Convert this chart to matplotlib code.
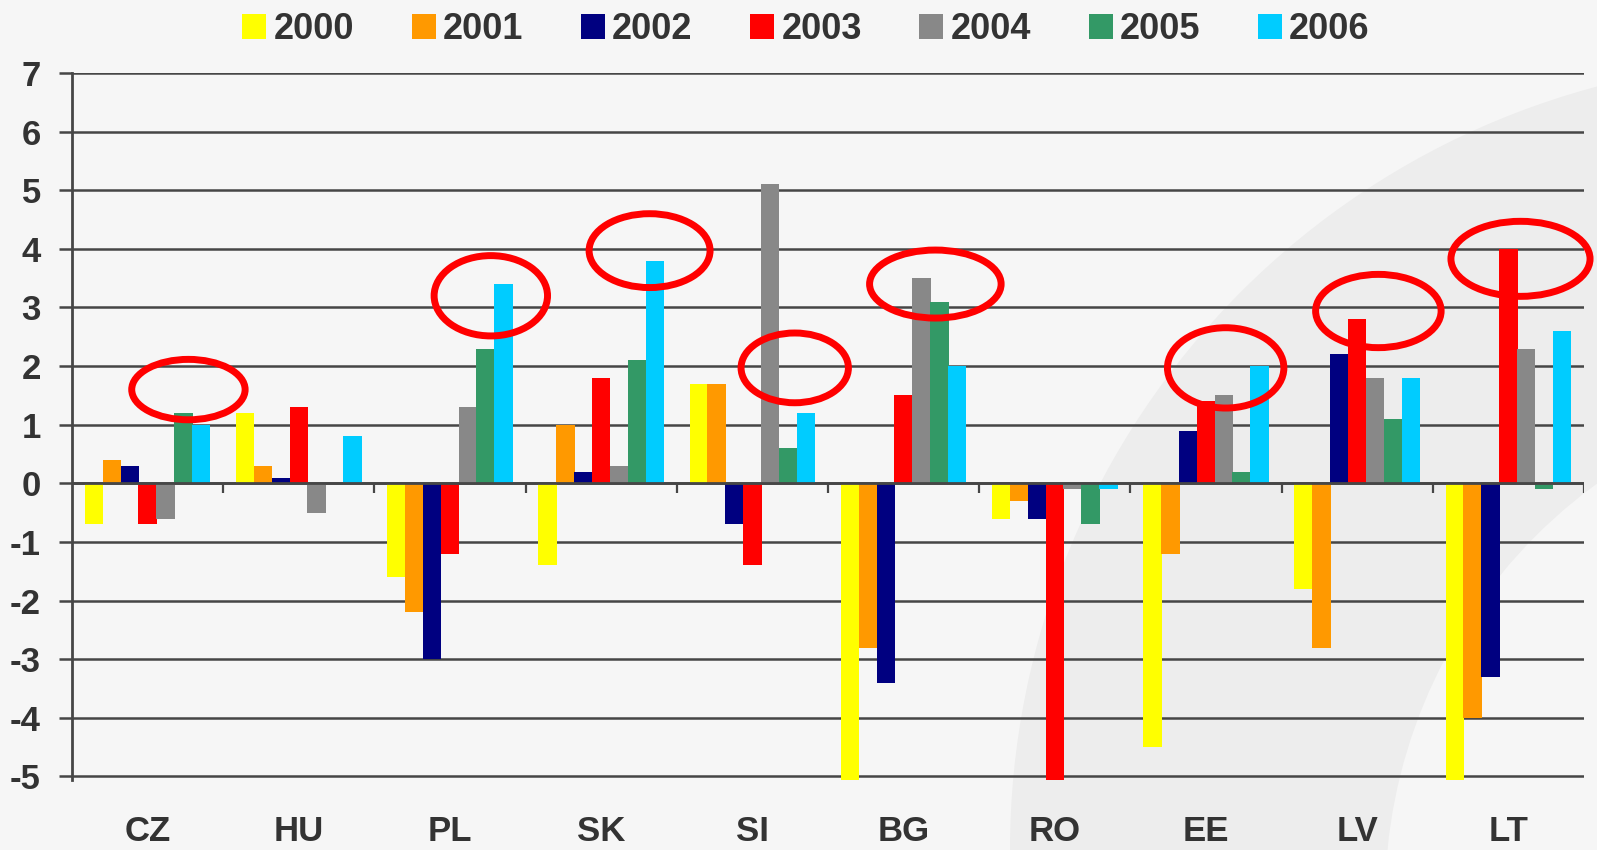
import matplotlib
matplotlib.use("Agg")
import matplotlib.pyplot as plt
from matplotlib.patches import Ellipse
import numpy as np

plt.rcParams['font.family'] = ['Liberation Sans', 'DejaVu Sans']
plt.rcParams['axes.unicode_minus'] = False

# --- data ---
countries = ["CZ", "HU", "PL", "SK", "SI", "BG", "RO", "EE", "LV", "LT"]
years = ["2000", "2001", "2002", "2003", "2004", "2005", "2006"]
colors = ["#FFFF00", "#FF9900", "#000080", "#FF0000", "#888888", "#339966", "#00CCFF"]

v2000 = [-0.7, 1.2, -1.6, -1.4, 1.7, -5.1, -0.6, -4.5, -1.8, -5.1]
v2001 = [0.4, 0.3, -2.2, 1.0, 1.7, -2.8, -0.3, -1.2, -2.8, -4.0]
v2002 = [0.3, 0.1, -3.0, 0.2, -0.7, -3.4, -0.6, 0.9, 2.2, -3.3]
v2003 = [-0.7, 1.3, -1.2, 1.8, -1.4, 1.5, -5.1, 1.4, 2.8, 4.0]
v2004 = [-0.6, -0.5, 1.3, 0.3, 5.1, 3.5, -0.1, 1.5, 1.8, 2.3]
v2005 = [1.2, 0.0, 2.3, 2.1, 0.6, 3.1, -0.7, 0.2, 1.1, -0.1]
v2006 = [1.0, 0.8, 3.4, 3.8, 1.2, 2.0, -0.1, 2.0, 1.8, 2.6]
series = [v2000, v2001, v2002, v2003, v2004, v2005, v2006]

# red circles: (country index, x shift, y centre, width, height)
highlights = [
    (0, 0.27, 1.60, 0.75, 1.03),
    (2, 0.27, 3.20, 0.75, 1.37),
    (3, 0.32, 3.97, 0.80, 1.26),
    (4, 0.28, 1.97, 0.71, 1.19),
    (5, 0.21, 3.40, 0.87, 1.16),
    (7, 0.13, 1.97, 0.77, 1.37),
    (8, 0.14, 2.94, 0.83, 1.25),
    (9, 0.08, 3.83, 0.92, 1.28),
]

text_col = "#333333"
grid_col = "#464646"

W, H = 1597, 850
fig = plt.figure(figsize=(W / 100, H / 100), dpi=100)
fig.patch.set_facecolor("#f6f6f6")

# background swoosh (pixel sizes converted to figure fractions)
fig.patches.append(Ellipse((1800 / W, 1 - 850 / H), 2 * 790 / W, 2 * 790 / H,
                           transform=fig.transFigure, facecolor="#ededed",
                           edgecolor="none", zorder=-10))
fig.patches.append(Ellipse((1900 / W, 1 - 900 / H), 2 * 515 / W, 2 * 515 / H,
                           transform=fig.transFigure, facecolor="#f6f6f6",
                           edgecolor="none", zorder=-9))

ax = fig.add_axes([72 / W, 1 - 780 / H, (1584 - 72) / W, (780 - 73) / H])
ax.set_facecolor("none")

x = np.arange(len(countries))
step = 0.118
for j, (year, vals, col) in enumerate(zip(years, series, colors)):
    ax.bar(x + (j - 3) * step, vals, width=0.122, color=col, label=year, zorder=3)

ax.set_xlim(-0.5, len(countries) - 0.5)
ax.set_ylim(-5.06, 7.0)
ax.set_yticks(range(-5, 8))
ax.yaxis.grid(True, color=grid_col, lw=1.8, zorder=1)
ax.set_axisbelow(True)

for side in ["top", "right", "bottom"]:
    ax.spines[side].set_visible(False)
ax.spines["left"].set_color(grid_col)
ax.spines["left"].set_linewidth(2)

# zero line with group separators
ax.axhline(0, color=grid_col, lw=2, zorder=4)
bounds = np.arange(len(countries) + 1) - 0.5
ax.vlines(bounds[1:], -0.17, 0, color=grid_col, lw=1.6, zorder=4)

ax.tick_params(axis="y", length=9.5, width=1.8, color=grid_col, pad=13,
               labelsize=25, labelcolor=text_col)
for lbl in ax.get_yticklabels():
    lbl.set_fontweight("bold")

ax.set_xticks(x)
ax.set_xticklabels(countries, fontsize=25, fontweight="bold", color=text_col)
ax.tick_params(axis="x", length=0, pad=25)

for ci, dx, yc, w, h in highlights:
    ax.add_patch(Ellipse((ci + dx, yc), w, h, fill=False, edgecolor="#FF0000",
                         lw=5, zorder=6, clip_on=False))

leg = fig.legend(loc="upper center", bbox_to_anchor=(0.5047, 1.024), ncol=7, frameon=False,
                 prop={"size": 26, "weight": "bold"}, handlelength=0.66, handleheight=0.69,
                 handletextpad=0.2, columnspacing=1.6)
for t in leg.get_texts():
    t.set_color(text_col)

fig.savefig("out.png", dpi=100, facecolor=fig.get_facecolor())
